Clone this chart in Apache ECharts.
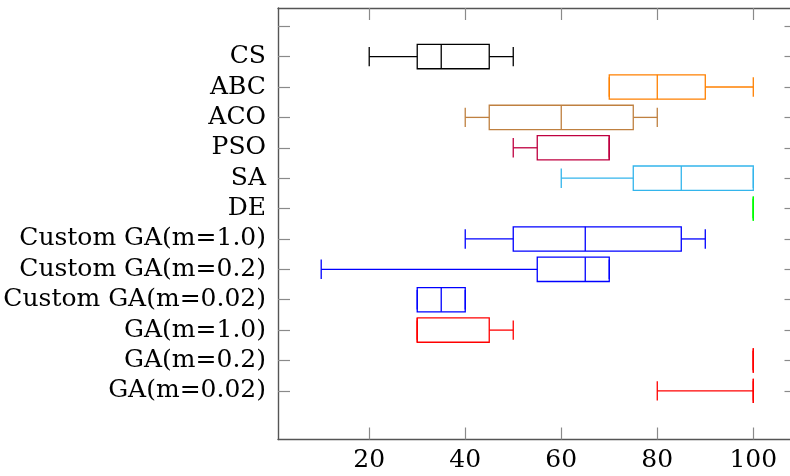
<!DOCTYPE html>
<html lang="en">
<head>
<meta charset="UTF-8">
<title>Boxplot</title>
<style>
  html, body { margin: 0; padding: 0; background: #fff; }
  #chart { width: 790px; height: 476px; }
</style>
</head>
<body>
<div id="chart"></div>
<script src="https://cdn.jsdelivr.net/npm/echarts@6/dist/echarts.min.js"></script>
<script>
// listed top to bottom
var names = ['CS', 'ABC', 'ACO', 'PSO', 'SA', 'DE',
    'Custom GA(m=1.0)', 'Custom GA(m=0.2)', 'Custom GA(m=0.02)',
    'GA(m=1.0)', 'GA(m=0.2)', 'GA(m=0.02)'];
var lowWhisker  = [20, 70, 40, 50, 60, 100, 40, 10, 30, 30, 100, 80];
var q1          = [30, 70, 45, 55, 75, 100, 50, 55, 30, 30, 100, 100];
var median      = [35, 80, 60, 70, 85, 100, 65, 65, 35, 30, 100, 100];
var q3          = [45, 90, 75, 70, 100, 100, 85, 70, 40, 45, 100, 100];
var highWhisker = [50, 100, 80, 70, 100, 100, 90, 70, 40, 50, 100, 100];
var xTicks = [20, 40, 60, 80, 100];
var colors = ['#000000', '#ff8000', '#bf8040', '#bf0040', '#33b5ec', '#00ff00',
    '#0000ff', '#0000ff', '#0000ff', '#ff0000', '#ff0000', '#ff0000'];

var n = names.length;
var yTicks = [];
for (var k = 1; k <= n + 1; k++) yTicks.push(k);

var data = names.map(function (nm, i) {
    return [n - i, lowWhisker[i], q1[i], median[i], q3[i], highWhisker[i]];
});

var font = 'DejaVu Serif';
var axisLineStyle = { color: '#555', width: 1.4 };
var tickStyle = { color: '#8a8a8a', width: 1.2 };

function renderBox(params, api) {
    var pos = api.value(0);
    var lo = api.coord([api.value(1), pos]);
    var a = api.coord([api.value(2), pos]);
    var m = api.coord([api.value(3), pos]);
    var b = api.coord([api.value(4), pos]);
    var hi = api.coord([api.value(5), pos]);
    var half = api.size([0, 0.4])[1];
    var cap = api.size([0, 0.32])[1];
    var y = lo[1];
    var st = { stroke: colors[params.dataIndex], fill: null, lineWidth: 1.3 };
    function ln(x1, y1, x2, y2) {
        return { type: 'line', shape: { x1: x1, y1: y1, x2: x2, y2: y2 }, style: st };
    }
    return {
        type: 'group',
        children: [
            ln(lo[0], y, a[0], y),
            ln(b[0], y, hi[0], y),
            ln(lo[0], y - cap, lo[0], y + cap),
            ln(hi[0], y - cap, hi[0], y + cap),
            { type: 'polygon', shape: { points: [[a[0], y - half], [b[0], y - half], [b[0], y + half], [a[0], y + half]] }, style: st },
            ln(m[0], y - half, m[0], y + half)
        ]
    };
}

var chart = echarts.init(document.getElementById('chart'));
chart.setOption({
    animation: false,
    backgroundColor: '#fff',
    grid: { left: 278, top: 8, width: 518.5, height: 431.5, outerBoundsMode: 'none', containLabel: false },
    xAxis: [{
        type: 'value', min: 1, max: 109, position: 'bottom',
        axisLine: { show: true, onZero: false, lineStyle: axisLineStyle },
        axisTick: { show: true, inside: true, length: 12, customValues: xTicks, lineStyle: tickStyle },
        axisLabel: { customValues: xTicks, margin: 8, fontFamily: font, fontSize: 25, color: '#000' },
        splitLine: { show: false }
    }, {
        type: 'value', min: 1, max: 109, position: 'top',
        axisLine: { show: true, onZero: false, lineStyle: axisLineStyle },
        axisTick: { show: true, inside: true, length: 12, customValues: xTicks, lineStyle: tickStyle },
        axisLabel: { show: false },
        splitLine: { show: false }
    }],
    yAxis: [{
        type: 'value', min: -0.6, max: 13.6, position: 'left',
        axisLine: { show: true, onZero: false, lineStyle: axisLineStyle },
        axisTick: { show: true, inside: true, length: 12, customValues: yTicks, lineStyle: tickStyle },
        axisLabel: {
            customValues: yTicks, margin: 12, fontFamily: font, fontSize: 25, color: '#000',
            formatter: function (v) { var i = n - v; return (i >= 0 && i < n) ? names[i] : ''; }
        },
        splitLine: { show: false }
    }, {
        type: 'value', min: -0.6, max: 13.6, position: 'right',
        axisLine: { show: true, onZero: false, lineStyle: axisLineStyle },
        axisTick: { show: true, inside: true, length: 12, customValues: yTicks, lineStyle: tickStyle },
        axisLabel: { show: false },
        splitLine: { show: false }
    }],
    series: [{
        type: 'custom',
        coordinateSystem: 'cartesian2d',
        xAxisIndex: 0, yAxisIndex: 0,
        encode: { x: [1, 2, 3, 4, 5], y: 0 },
        renderItem: renderBox,
        data: data
    }]
});
</script>
</body>
</html>
